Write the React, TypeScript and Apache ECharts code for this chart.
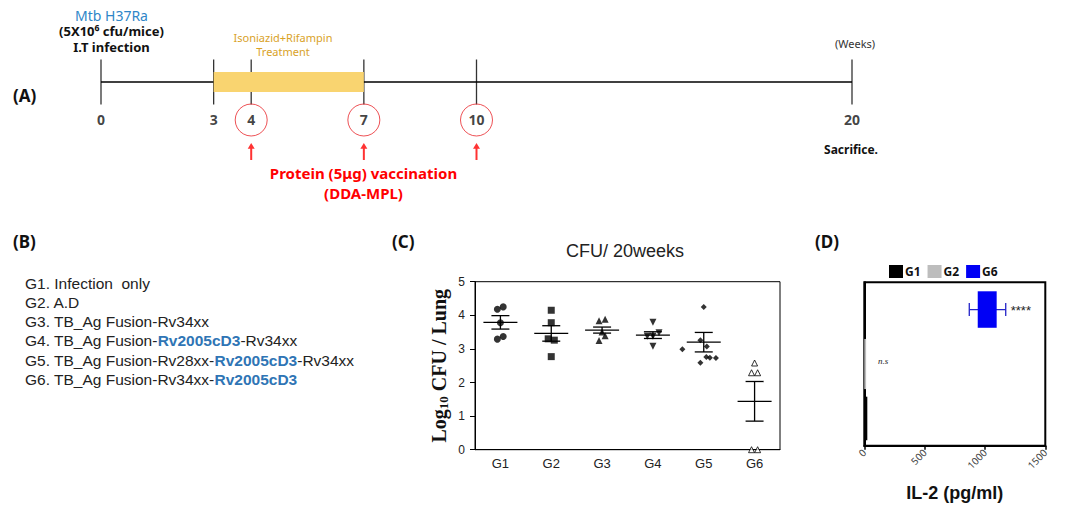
import React, { useEffect, useRef } from 'react';
import * as echarts from 'echarts';

// ---------- (A) timeline data ----------
const timelineSpan = [0, 20];
const timelineWeeks = [0, 3, 4, 7, 10, 20];
const treatmentWeeks = [3, 7];
const vaccinationWeeks = [4, 7, 10];

// ---------- (B) group descriptions ----------
const groupLines = [
  'G1. Infection  only',
  'G2. A.D',
  'G3. TB_Ag Fusion-Rv34xx',
  'G4. TB_Ag Fusion-{b|Rv2005cD3}-Rv34xx',
  'G5. TB_Ag Fusion-Rv28xx-{b|Rv2005cD3}-Rv34xx',
  'G6. TB_Ag Fusion-Rv34xx-{b|Rv2005cD3}',
];

// ---------- (C) CFU data ----------
const cfuCategories = ['G1', 'G2', 'G3', 'G4', 'G5', 'G6'];
const cfuG1 = [4.18, 4.25, 3.78, 3.29, 3.37];
const cfuG2 = [4.15, 3.78, 3.3, 3.26, 2.77];
const cfuG3 = [3.84, 3.88, 3.5, 3.39, 3.25];
const cfuG4 = [3.79, 3.38, 3.38, 3.48, 3.08];
const cfuG5 = [4.25, 3.26, 3.07, 2.99, 2.76, 2.74, 2.73, 2.59];
const cfuG6 = [2.58, 2.29, 2.29, 0, 0];
const jitterG1 = [-0.06, 0.055, 0, -0.06, 0.055];
const jitterG2 = [0, 0, -0.06, 0.06, 0];
const jitterG3 = [-0.06, 0.06, 0, 0.06, -0.06];
const jitterG4 = [0, -0.11, 0, 0.12, 0];
const jitterG5 = [0, -0.066, 0.06, -0.42, 0.05, 0.12, 0.24, -0.066];
const jitterG6 = [0, -0.06, 0.06, -0.06, 0.06];
const cfuMeans = [3.79, 3.46, 3.56, 3.41, 3.2, 1.44];
const cfuSems = [0.2, 0.23, 0.09, 0.1, 0.29, 0.59];

// ---------- (D) IL-2 data ----------
const il2Groups = ['G1', 'G2', 'G6'];
const il2Low = [0, 0, 940];
const il2High = [25, 15, 1097];
const il2ErrLow = [null, null, 870];
const il2ErrHigh = [null, null, 1172];
const il2Marks = ['', 'n.s', '****'];

// ---------- styles ----------
const SANS = "'Noto Sans', sans-serif";
const ARIAL = "'Liberation Sans', Arial, sans-serif";
const SERIF = "'Liberation Serif', 'Times New Roman', serif";
const il2Colors = ['#000000', '#BDBDBD', '#0000F5'];
const il2BarFrac = [0.8, 0.92, 0.67];
const il2MarkOffset = [0, 12, 5];

const cfuGroups = [
  { values: cfuG1, jitter: jitterG1, symbol: 'circle', size: 7, rotate: 0, open: false },
  { values: cfuG2, jitter: jitterG2, symbol: 'rect', size: 7, rotate: 0, open: false },
  { values: cfuG3, jitter: jitterG3, symbol: 'triangle', size: 7, rotate: 0, open: false },
  { values: cfuG4, jitter: jitterG4, symbol: 'triangle', size: 7, rotate: 180, open: false },
  { values: cfuG5, jitter: jitterG5, symbol: 'diamond', size: 6, rotate: 0, open: false },
  { values: cfuG6, jitter: jitterG6, symbol: 'triangle', size: 6, rotate: 0, open: true },
];

function txt(x: number, y: number, text: string, font: any, align = 'left', extra: any = {}) {
  return {
    type: 'text',
    x,
    y,
    silent: true,
    style: {
      text,
      align,
      textAlign: align,
      verticalAlign: 'middle',
      textVerticalAlign: 'middle',
      ...font,
      ...extra,
    },
  };
}

export default function App() {
  const ref = useRef<HTMLDivElement>(null);

  useEffect(() => {
    if (!ref.current) return;
    const chart = echarts.init(ref.current, null, { renderer: 'svg' });

    const graphics: any[] = [];
    // (A) annotations
    graphics.push(txt(13, 95, '(A)', { fontSize: 17, fontWeight: 'bold', fontFamily: SANS, fill: '#111' }));
    graphics.push(
      txt(
        111.5,
        31.3,
        '{m|Mtb H37Ra}\n{k|(5X10⁶ cfu/mice)}\n{k|I.T infection}',
        { fontSize: 13, fontFamily: SANS, fill: '#111' },
        'center',
        {
          rich: {
            m: { fontSize: 14, fontFamily: SANS, fill: '#2E86C8', lineHeight: 16, align: 'center' },
            k: { fontSize: 13, fontWeight: 'bold', fontFamily: SANS, fill: '#111', lineHeight: 16, align: 'center' },
          },
        }
      )
    );
    graphics.push(
      txt(283, 44, 'Isoniazid+Rifampin\nTreatment', { fontSize: 11, fontFamily: SANS, fill: '#D9A227', lineHeight: 14 }, 'center')
    );
    graphics.push(txt(855, 43.5, '(Weeks)', { fontSize: 11, fontFamily: SANS, fill: '#333' }, 'center'));
    graphics.push(txt(851, 149.5, 'Sacrifice.', { fontSize: 12, fontWeight: 'bold', fontFamily: SANS, fill: '#111' }, 'center'));
    graphics.push(
      txt(363.5, 183, 'Protein (5μg) vaccination\n(DDA-MPL)', { fontSize: 15, fontWeight: 'bold', fontFamily: SANS, fill: '#FF0000', lineHeight: 20 }, 'center')
    );
    // (B)
    graphics.push(txt(13, 241, '(B)', { fontSize: 17, fontWeight: 'bold', fontFamily: SANS, fill: '#111' }));
    groupLines.forEach((line, i) => {
      graphics.push(
        txt(25, 283.5 + i * 19.14, line, { fontSize: 15.5, fontFamily: ARIAL, fill: '#222' }, 'left', {
          rich: { b: { fontSize: 15.5, fontFamily: ARIAL, fontWeight: 'bold', fill: '#2F75B5' } },
        })
      );
    });
    // (C) / (D) labels & title
    graphics.push(txt(392, 241.5, '(C)', { fontSize: 17, fontWeight: 'bold', fontFamily: SANS, fill: '#111' }));
    graphics.push(txt(625, 251, 'CFU/ 20weeks', { fontSize: 18, fontFamily: ARIAL, fill: '#222' }, 'center'));
    graphics.push(txt(815, 241, '(D)', { fontSize: 17, fontWeight: 'bold', fontFamily: SANS, fill: '#111' }));

    const series: any[] = [];
    // ---- timeline ----
    series.push({
      type: 'line', xAxisIndex: 0, yAxisIndex: 0, silent: true, symbol: 'none',
      data: timelineSpan.map((w) => [w, 0]),
      lineStyle: { color: '#000', width: 1.3 },
    });
    series.push({
      type: 'line', xAxisIndex: 0, yAxisIndex: 0, silent: true, symbol: 'none',
      data: treatmentWeeks.map((w) => [w, 0]),
      lineStyle: { color: '#F9D470', width: 20, cap: 'butt' },
    });
    series.push({
      type: 'scatter', xAxisIndex: 0, yAxisIndex: 0, silent: true, clip: false,
      data: timelineWeeks.map((w) => [w, 0]),
      symbol: 'rect', symbolSize: [1.3, 45],
      itemStyle: { color: '#000' },
      label: {
        show: true, position: 'bottom', distance: 8,
        formatter: (p: any) => String(p.value[0]),
        fontSize: 14, fontWeight: 'bold', fontFamily: SANS, color: '#111',
      },
    });
    series.push({
      type: 'scatter', xAxisIndex: 0, yAxisIndex: 0, silent: true, clip: false,
      data: vaccinationWeeks.map((w) => [w, 0]),
      symbol: 'circle', symbolSize: 32, symbolOffset: [0, 38],
      itemStyle: { color: 'rgba(0,0,0,0)', borderColor: '#E8262B', borderWidth: 1 },
    });
    series.push({
      type: 'scatter', xAxisIndex: 0, yAxisIndex: 0, silent: true, clip: false,
      data: vaccinationWeeks.map((w) => [w, 0]),
      symbol: 'path://M3.5,0L7,6H4.5V18H2.5V6H0Z', symbolSize: [7, 17], symbolOffset: [0, 69.5],
      itemStyle: { color: '#FF0000' },
    });

    // ---- (C) CFU ----
    cfuGroups.forEach((g, gi) => {
      series.push({
        type: 'scatter', name: 'C-' + cfuCategories[gi], xAxisIndex: 2, yAxisIndex: 1, clip: false, silent: true,
        data: g.values.map((v, j) => [gi + g.jitter[j], v]),
        symbol: g.symbol, symbolSize: g.size, symbolRotate: g.rotate,
        itemStyle: g.open
          ? { color: '#fff', borderColor: '#000', borderWidth: 1 }
          : { color: '#000' },
      });
    });
    series.push({
      type: 'custom', name: 'C-err', xAxisIndex: 1, yAxisIndex: 1, silent: true,
      encode: { x: 0, y: 1 },
      data: cfuMeans.map((m, i) => [i, m, cfuSems[i]]),
      renderItem: (params: any, api: any) => {
        const x = api.value(0), m = api.value(1), s = api.value(2);
        const c = api.coord([x, m]);
        const hi = api.coord([x, m + s]);
        const lo = api.coord([x, m - s]);
        const st = { stroke: '#000', lineWidth: 1.3 };
        return {
          type: 'group',
          children: [
            { type: 'line', shape: { x1: c[0] - 17, y1: c[1], x2: c[0] + 17, y2: c[1] }, style: st },
            { type: 'line', shape: { x1: c[0], y1: hi[1], x2: c[0], y2: lo[1] }, style: st },
            { type: 'line', shape: { x1: c[0] - 9, y1: hi[1], x2: c[0] + 9, y2: hi[1] }, style: st },
            { type: 'line', shape: { x1: c[0] - 9, y1: lo[1], x2: c[0] + 9, y2: lo[1] }, style: st },
          ],
        };
      },
    });

    // ---- (D) IL-2 ----
    il2Groups.forEach((name, gi) => {
      series.push({
        type: 'custom', name, xAxisIndex: 3, yAxisIndex: 2, silent: true,
        encode: { x: [1, 2], y: 0 },
        itemStyle: { color: il2Colors[gi] },
        data: [[gi, il2Low[gi], il2High[gi]]],
        renderItem: (params: any, api: any) => {
          const cat = api.value(0), lo = api.value(1), hi = api.value(2);
          const p0 = api.coord([lo, cat]);
          const p1 = api.coord([hi, cat]);
          const band = api.size([0, 1])[1];
          const h = band * il2BarFrac[gi];
          const children: any[] = [];
          let endX = p1[0];
          const eLo = il2ErrLow[gi], eHi = il2ErrHigh[gi];
          if (eLo != null && eHi != null) {
            const e0 = api.coord([eLo, cat]);
            const e1 = api.coord([eHi, cat]);
            const st = { stroke: '#2424C8', lineWidth: 1.3 };
            children.push({ type: 'line', shape: { x1: e0[0], y1: e0[1], x2: e1[0], y2: e1[1] }, style: st });
            children.push({ type: 'line', shape: { x1: e0[0], y1: e0[1] - 6.5, x2: e0[0], y2: e0[1] + 6.5 }, style: st });
            children.push({ type: 'line', shape: { x1: e1[0], y1: e1[1] - 6.5, x2: e1[0], y2: e1[1] + 6.5 }, style: st });
            endX = e1[0];
          }
          children.push({
            type: 'rect',
            shape: { x: p0[0], y: p0[1] - h / 2, width: Math.max(p1[0] - p0[0], 1), height: h },
            style: { fill: il2Colors[gi] },
          });
          if (il2Marks[gi]) {
            const isNs = il2Marks[gi] === 'n.s';
            children.push({
              type: 'text',
              x: endX + il2MarkOffset[gi],
              y: p1[1] + (isNs ? -3 : 1),
              style: {
                text: il2Marks[gi],
                fill: '#222',
                font: isNs ? `italic 9px ${SERIF}` : `13px ${ARIAL}`,
                align: 'left',
                verticalAlign: 'middle',
              },
            });
          }
          return { type: 'group', children };
        },
      });
    });

    const option: any = {
      animation: false,
      backgroundColor: '#fff',
      graphic: graphics,
      legend: {
        data: il2Groups,
        left: 884,
        top: 260,
        itemWidth: 14,
        itemHeight: 13,
        itemGap: 7,
        icon: 'rect',
        selectedMode: false,
        textStyle: { fontWeight: 'bold', fontSize: 12, fontFamily: SANS, color: '#111', padding: [0, 0, 0, -3] },
      },
      grid: [
        { left: 101, width: 751, top: 60, height: 44 },
        { left: 475, width: 305, top: 281.7, height: 168, show: true, borderColor: '#000', borderWidth: 1 },
        { left: 864.3, width: 181, top: 282.3, height: 163.4, show: true, borderColor: '#000', borderWidth: 2 },
      ],
      xAxis: [
        { gridIndex: 0, type: 'value', min: timelineSpan[0], max: timelineSpan[1], show: false },
        {
          gridIndex: 1, type: 'category', data: cfuCategories, boundaryGap: true,
          axisLine: { onZero: false, lineStyle: { color: '#000', width: 1 } },
          axisTick: { alignWithLabel: true, length: 5, lineStyle: { color: '#000' } },
          axisLabel: { fontSize: 13, color: '#222', fontFamily: ARIAL, margin: 7 },
          splitLine: { show: false },
        },
        { gridIndex: 1, type: 'value', min: -0.5, max: 5.5, show: false },
        {
          gridIndex: 2, type: 'value', min: 0, max: 1500, interval: 500,
          axisLine: { show: true, onZero: false, lineStyle: { color: '#000', width: 2 } },
          axisTick: { show: true, length: 4, lineStyle: { color: '#000', width: 1.5 } },
          axisLabel: { rotate: 45, fontSize: 10, color: '#444', fontFamily: SANS, margin: 5, formatter: (v: number) => String(v) },
          splitLine: { show: false },
          name: 'IL-2 (pg/ml)', nameLocation: 'middle', nameGap: 38,
          nameTextStyle: { fontWeight: 'bold', fontSize: 18, fontFamily: ARIAL, color: '#111' },
        },
      ],
      yAxis: [
        { gridIndex: 0, type: 'value', min: -1, max: 1, show: false },
        {
          gridIndex: 1, type: 'value', min: 0, max: 5, interval: 1,
          axisLine: { show: true, onZero: false, lineStyle: { color: '#000', width: 1 } },
          axisTick: { show: true, length: 5, lineStyle: { color: '#000' } },
          axisLabel: { fontSize: 12, color: '#222', fontFamily: ARIAL, margin: 10 },
          splitLine: { show: false },
          name: '{a|Log}{s|10}{a| CFU / Lung}',
          nameLocation: 'middle', nameGap: 25,
          nameTextStyle: {
            rich: {
              a: { fontFamily: SERIF, fontWeight: 'bold', fontSize: 20, color: '#111' },
              s: { fontFamily: SERIF, fontWeight: 'bold', fontSize: 13, color: '#111', padding: [9, 0, 0, 0] },
            },
          },
        },
        {
          gridIndex: 2, type: 'category', data: il2Groups,
          axisLine: { show: true, onZero: false, lineStyle: { color: '#000', width: 2 } },
          axisTick: { show: false },
          axisLabel: { show: false },
          splitLine: { show: false },
        },
      ],
      series,
    };

    chart.setOption(option);
    return () => chart.dispose();
  }, []);

  return (
    <div
      ref={ref}
      style={{ position: 'absolute', left: 0, top: 0, width: 1078, height: 513, background: '#fff' }}
    />
  );
}
